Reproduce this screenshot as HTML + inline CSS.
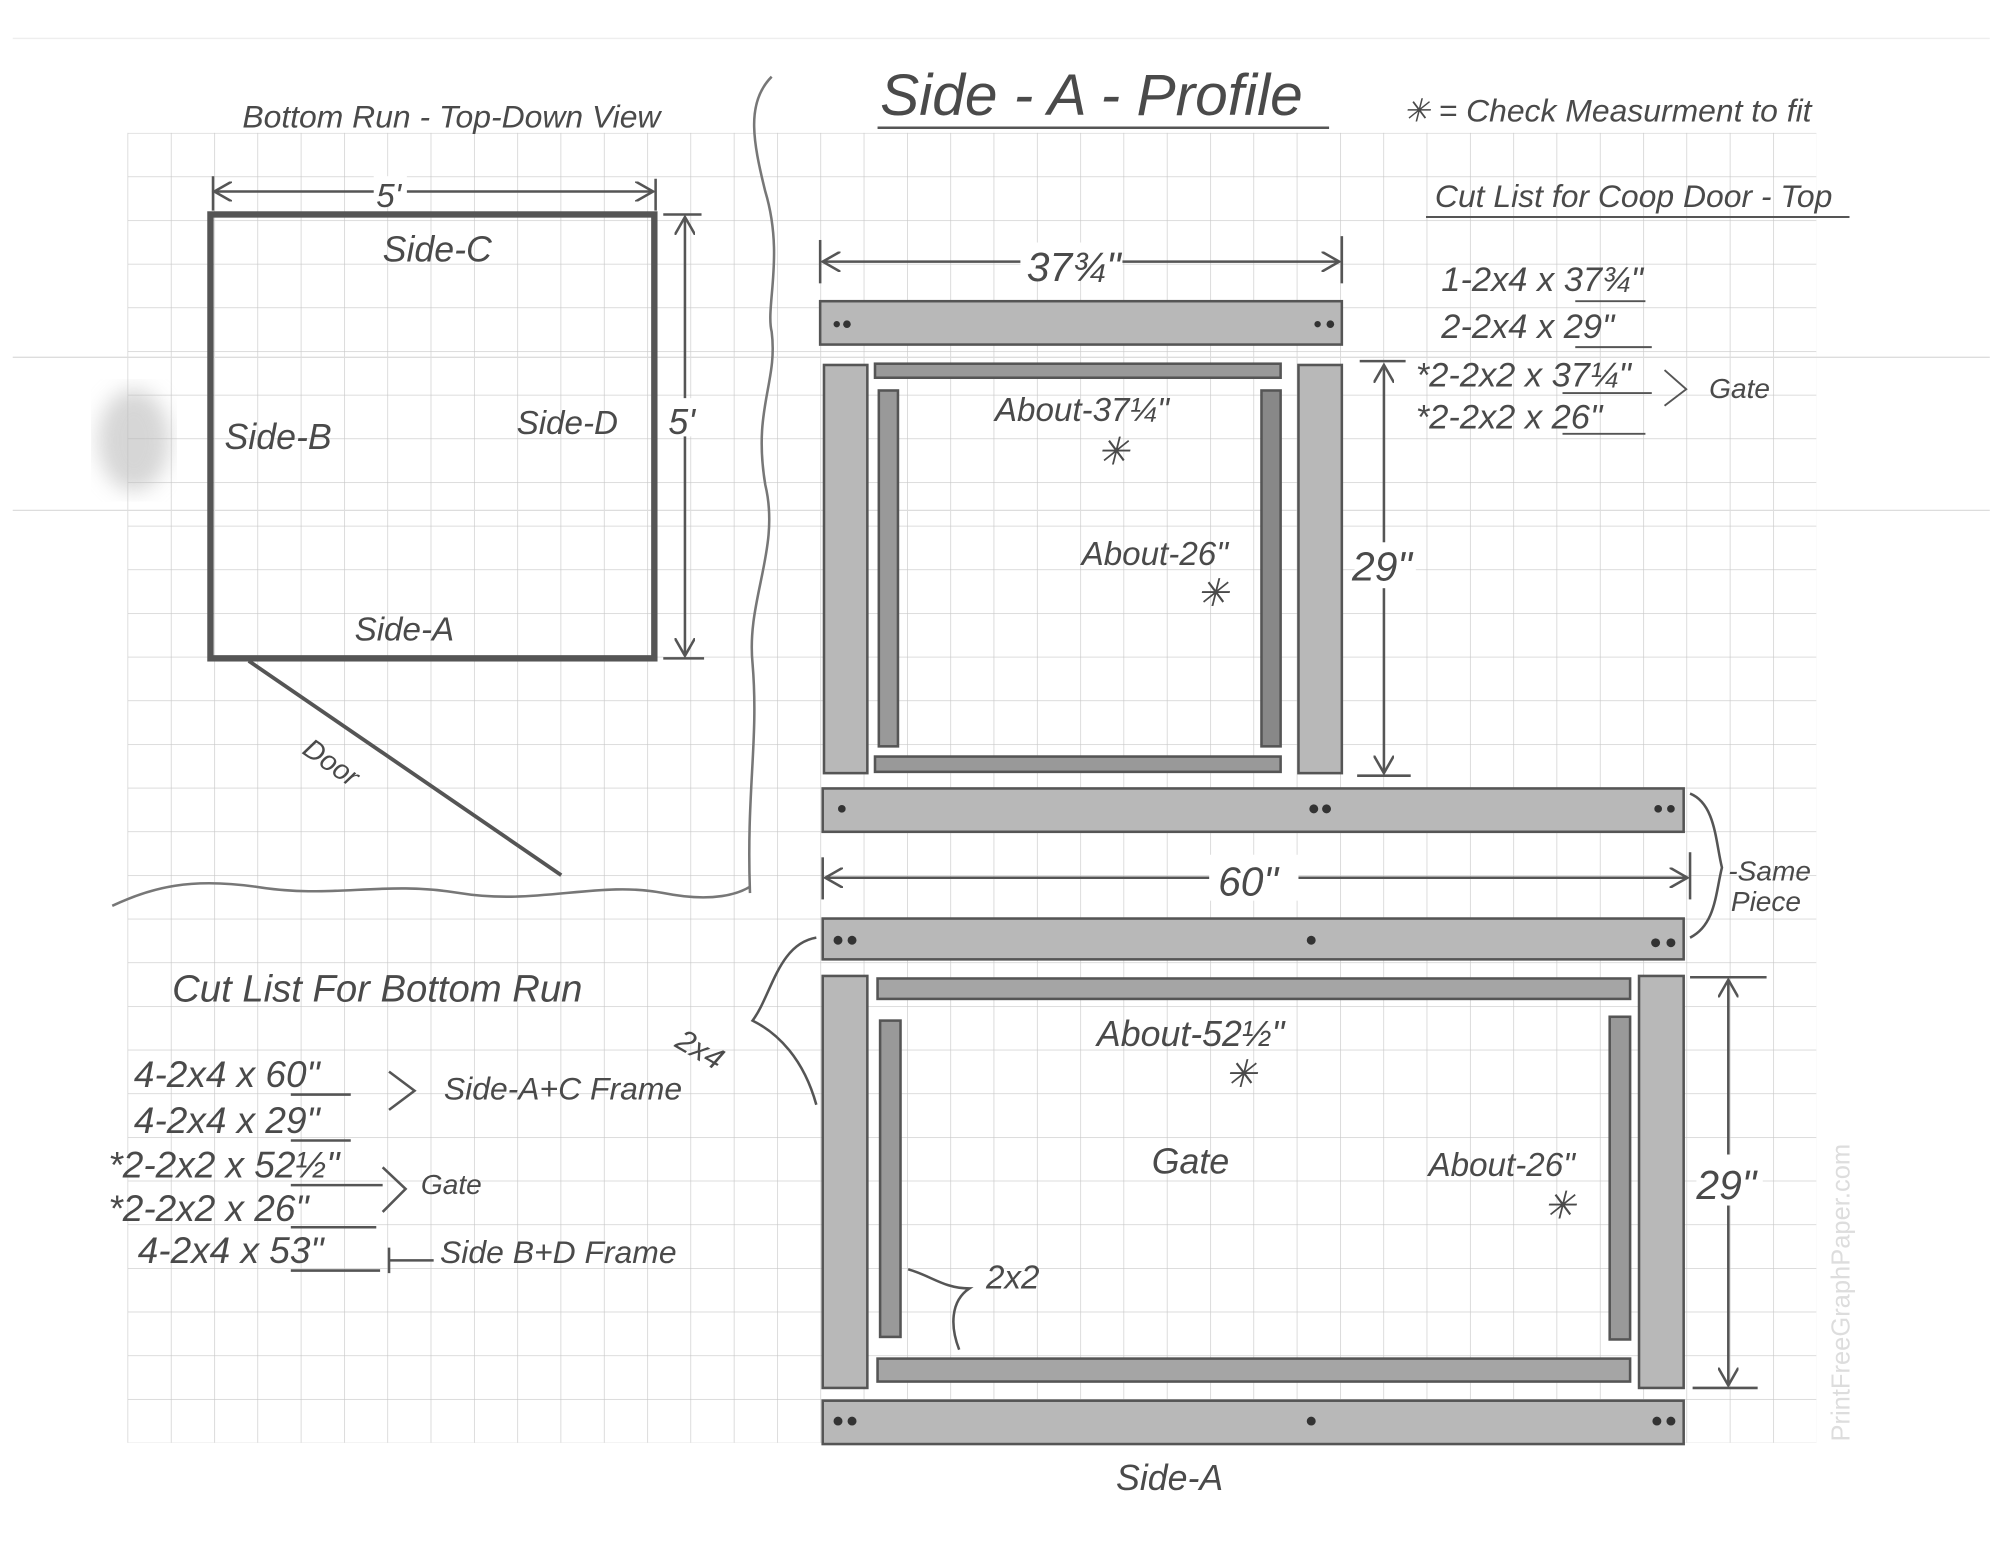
<!DOCTYPE html>
<html><head><meta charset="utf-8"><style>
html,body{margin:0;padding:0;background:#fff;}
svg{display:block}
text{font-family:"Liberation Sans",sans-serif;fill:#4a4a4a;font-style:italic;}
</style></head><body>
<svg width="2000" height="1545" viewBox="0 0 1568 1211" xmlns="http://www.w3.org/2000/svg">
<defs>
<pattern id="g" x="100" y="104" width="33.95" height="34.23" patternUnits="userSpaceOnUse">
<path d="M0 0V34.23M0 0H33.95" stroke="#c8c8c8" stroke-width="1" fill="none"/>
</pattern>
<marker id="ah" markerWidth="16" markerHeight="16" refX="14" refY="8" orient="auto-start-reverse" markerUnits="userSpaceOnUse">
<path d="M0 0L14 8L0 16" fill="none" stroke="#555" stroke-width="2"/>
</marker>
<filter id="blur"><feGaussianBlur stdDeviation="8"/></filter>
</defs>
<rect width="1568" height="1211" fill="#fff"/>
<rect x="100" y="104" width="1324" height="1027" fill="url(#g)"/>
<line x1="10" y1="30" x2="1560" y2="30" stroke="#eee"/>
<line x1="10" y1="280" x2="1560" y2="280" stroke="#ddd"/>
<line x1="10" y1="400" x2="1560" y2="400" stroke="#ddd"/>
<ellipse cx="105" cy="345" rx="28" ry="40" fill="#bbb" opacity="0.6" filter="url(#blur)"/>

<!-- left view -->
<text x="190" y="100" font-size="25">Bottom Run - Top-Down View</text>
<path d="M605 60 C585 80 590 110 600 150 C615 200 600 240 605 260 C610 300 590 320 600 380 C612 430 585 470 590 520 C595 580 585 620 588 700" fill="none" stroke="#777" stroke-width="2"/>
<path d="M88 710 C120 695 150 688 200 695 C260 705 300 690 360 700 C420 710 470 690 520 700 C560 708 580 700 588 695" fill="none" stroke="#777" stroke-width="2"/>
<rect x="165" y="168" width="348" height="348" fill="none" stroke="#555" stroke-width="5"/>
<line x1="168" y1="150" x2="512" y2="150" stroke="#555" stroke-width="2" marker-start="url(#ah)" marker-end="url(#ah)"/>
<line x1="167" y1="138" x2="167" y2="165" stroke="#555" stroke-width="2"/>
<line x1="514" y1="140" x2="514" y2="165" stroke="#555" stroke-width="2"/>
<rect x="293" y="138" width="26" height="22" fill="#fff"/>
<text x="295" y="162" font-size="26">5'</text>
<line x1="537" y1="170" x2="537" y2="514" stroke="#555" stroke-width="2" marker-start="url(#ah)" marker-end="url(#ah)"/>
<line x1="520" y1="168" x2="550" y2="168" stroke="#555" stroke-width="2"/>
<line x1="520" y1="516" x2="552" y2="516" stroke="#555" stroke-width="2"/>
<rect x="524" y="312" width="26" height="30" fill="#fff"/>
<text x="524" y="340" font-size="28">5'</text>
<text x="300" y="205" font-size="28">Side-C</text>
<text x="176" y="352" font-size="28">Side-B</text>
<text x="405" y="340" font-size="26">Side-D</text>
<text x="278" y="502" font-size="26">Side-A</text>
<line x1="195" y1="518" x2="440" y2="686" stroke="#555" stroke-width="3"/>
<text x="236" y="590" font-size="22" transform="rotate(35 236 590)">Door</text>

<text x="135" y="785" font-size="30">Cut List For Bottom Run</text>
<g font-size="29">
<text x="105" y="852">4-2x4 x 60"</text>
<text x="105" y="888">4-2x4 x 29"</text>
<text x="85" y="923">*2-2x2 x 52½"</text>
<text x="85" y="957">*2-2x2 x 26"</text>
<text x="108" y="990">4-2x4 x 53"</text>
</g>
<g stroke="#555" stroke-width="2" fill="none">
<line x1="228" y1="858" x2="275" y2="858"/><line x1="228" y1="894" x2="275" y2="894"/>
<line x1="228" y1="929" x2="300" y2="929"/><line x1="228" y1="962" x2="295" y2="962"/>
<line x1="228" y1="996" x2="298" y2="996"/>
<path d="M305 840 L325 855 L305 870"/><path d="M300 915 L318 932 L300 950"/>
<path d="M305 978 V998 M305 988 H340"/>
</g>
<text x="348" y="862" font-size="25">Side-A+C Frame</text>
<text x="330" y="936" font-size="22">Gate</text>
<text x="345" y="990" font-size="25">Side B+D Frame</text>

<!-- titles -->
<text x="690" y="90" font-size="46">Side - A - Profile</text>
<line x1="688" y1="100" x2="1042" y2="100" stroke="#555" stroke-width="2"/>
<text x="1100" y="95" font-size="25">✳ = Check Measurment to fit</text>
<text x="1125" y="162" font-size="25">Cut List for Coop Door - Top</text>
<line x1="1118" y1="170" x2="1450" y2="170" stroke="#555" stroke-width="1.5"/>
<g font-size="27">
<text x="1130" y="228">1-2x4 x 37¾"</text>
<text x="1130" y="265">2-2x4 x 29"</text>
<text x="1110" y="303">*2-2x2 x 37¼"</text>
<text x="1110" y="336">*2-2x2 x 26"</text>
</g>
<g stroke="#555" stroke-width="1.5" fill="none">
<line x1="1235" y1="236" x2="1290" y2="236"/><line x1="1235" y1="272" x2="1295" y2="272"/>
<line x1="1225" y1="308" x2="1295" y2="308"/><line x1="1225" y1="340" x2="1290" y2="340"/>
<path d="M1305 290 L1322 305 L1305 318"/>
</g>
<text x="1340" y="312" font-size="22">Gate</text>

<!-- top door frame -->
<line x1="645" y1="205" x2="1050" y2="205" stroke="#555" stroke-width="2" marker-start="url(#ah)" marker-end="url(#ah)"/>
<line x1="643" y1="188" x2="643" y2="222" stroke="#555" stroke-width="2"/>
<line x1="1052" y1="185" x2="1052" y2="222" stroke="#555" stroke-width="2"/>
<rect x="800" y="190" width="80" height="30" fill="#fff"/>
<text x="805" y="220" font-size="32">37¾"</text>
<g fill="#b8b8b8" stroke="#555" stroke-width="2">
<rect x="643" y="236" width="409" height="34"/>
<rect x="646" y="286" width="34" height="320"/>
<rect x="1018" y="286" width="34" height="320"/>
<rect x="686" y="285" width="318" height="11" fill="#999"/>
<rect x="686" y="593" width="318" height="12" fill="#999"/>
<rect x="689" y="306" width="15" height="279" fill="#999"/>
<rect x="989" y="306" width="15" height="279" fill="#888"/>
<rect x="645" y="618" width="675" height="34"/>
<rect x="645" y="720" width="675" height="32"/>
<rect x="645" y="765" width="35" height="323"/>
<rect x="1285" y="765" width="35" height="323"/>
<rect x="688" y="767" width="590" height="16" fill="#a5a5a5"/>
<rect x="688" y="1065" width="590" height="18" fill="#a5a5a5"/>
<rect x="690" y="800" width="16" height="248" fill="#999"/>
<rect x="1262" y="797" width="16" height="253" fill="#999"/>
<rect x="645" y="1098" width="675" height="34"/>
</g>
<g fill="#333">
<circle cx="656" cy="254" r="2.5"/><circle cx="664" cy="254" r="3"/>
<circle cx="1033" cy="254" r="2.5"/><circle cx="1043" cy="254" r="3"/>
<circle cx="660" cy="634" r="3"/><circle cx="1030" cy="634" r="3.5"/><circle cx="1040" cy="634" r="3.5"/>
<circle cx="1300" cy="634" r="3"/><circle cx="1310" cy="634" r="3"/>
<circle cx="657" cy="737" r="3.5"/><circle cx="668" cy="737" r="3.5"/>
<circle cx="1028" cy="737" r="3.5"/><circle cx="1298" cy="739" r="3.5"/><circle cx="1310" cy="739" r="3.5"/>
<circle cx="657" cy="1114" r="3.5"/><circle cx="668" cy="1114" r="3.5"/>
<circle cx="1028" cy="1114" r="3.5"/><circle cx="1299" cy="1114" r="3.5"/><circle cx="1310" cy="1114" r="3.5"/>
</g>
<text x="780" y="330" font-size="26">About-37¼"</text>
<text x="860" y="364" font-size="30">✳</text>
<text x="848" y="443" font-size="26">About-26"</text>
<text x="938" y="475" font-size="30">✳</text>
<line x1="1085" y1="286" x2="1085" y2="606" stroke="#555" stroke-width="2" marker-start="url(#ah)" marker-end="url(#ah)"/>
<line x1="1066" y1="283" x2="1102" y2="283" stroke="#555" stroke-width="2"/>
<line x1="1064" y1="608" x2="1106" y2="608" stroke="#555" stroke-width="2"/>
<rect x="1062" y="425" width="48" height="36" fill="#fff"/>
<text x="1060" y="455" font-size="32">29"</text>

<line x1="647" y1="688" x2="1323" y2="688" stroke="#555" stroke-width="2" marker-start="url(#ah)" marker-end="url(#ah)"/>
<line x1="645" y1="672" x2="645" y2="705" stroke="#555" stroke-width="2"/>
<line x1="1325" y1="668" x2="1325" y2="705" stroke="#555" stroke-width="2"/>
<rect x="948" y="670" width="70" height="36" fill="#fff"/>
<text x="955" y="702" font-size="32">60"</text>
<path d="M1325 622 C1345 630 1345 660 1350 680 C1345 700 1345 725 1325 735" fill="none" stroke="#555" stroke-width="2"/>
<text x="1355" y="690" font-size="22">-Same</text>
<text x="1357" y="714" font-size="22">Piece</text>

<path d="M640 735 C610 740 605 780 590 800 C610 810 630 830 640 866" fill="none" stroke="#555" stroke-width="2"/>
<text x="528" y="820" font-size="24" transform="rotate(30 528 820)">2x4</text>
<text x="860" y="820" font-size="28">About-52½"</text>
<text x="960" y="852" font-size="30">✳</text>
<text x="903" y="920" font-size="28">Gate</text>
<text x="1120" y="922" font-size="26">About-26"</text>
<text x="1210" y="955" font-size="30">✳</text>
<text x="773" y="1010" font-size="26">2x2</text>
<path d="M712 995 C730 1000 740 1010 760 1010 C745 1020 745 1040 752 1058" fill="none" stroke="#555" stroke-width="2"/>
<line x1="1355" y1="768" x2="1355" y2="1086" stroke="#555" stroke-width="2" marker-start="url(#ah)" marker-end="url(#ah)"/>
<line x1="1325" y1="766" x2="1385" y2="766" stroke="#555" stroke-width="2"/>
<line x1="1327" y1="1088" x2="1378" y2="1088" stroke="#555" stroke-width="2"/>
<rect x="1330" y="905" width="52" height="40" fill="#fff"/>
<text x="1330" y="940" font-size="32">29"</text>
<text x="875" y="1168" font-size="28">Side-A</text>
<text x="1450" y="1130" font-size="20" transform="rotate(-90 1450 1130)" style="fill:#ddd;font-style:normal">PrintFreeGraphPaper.com</text>
</svg>
</body></html>
